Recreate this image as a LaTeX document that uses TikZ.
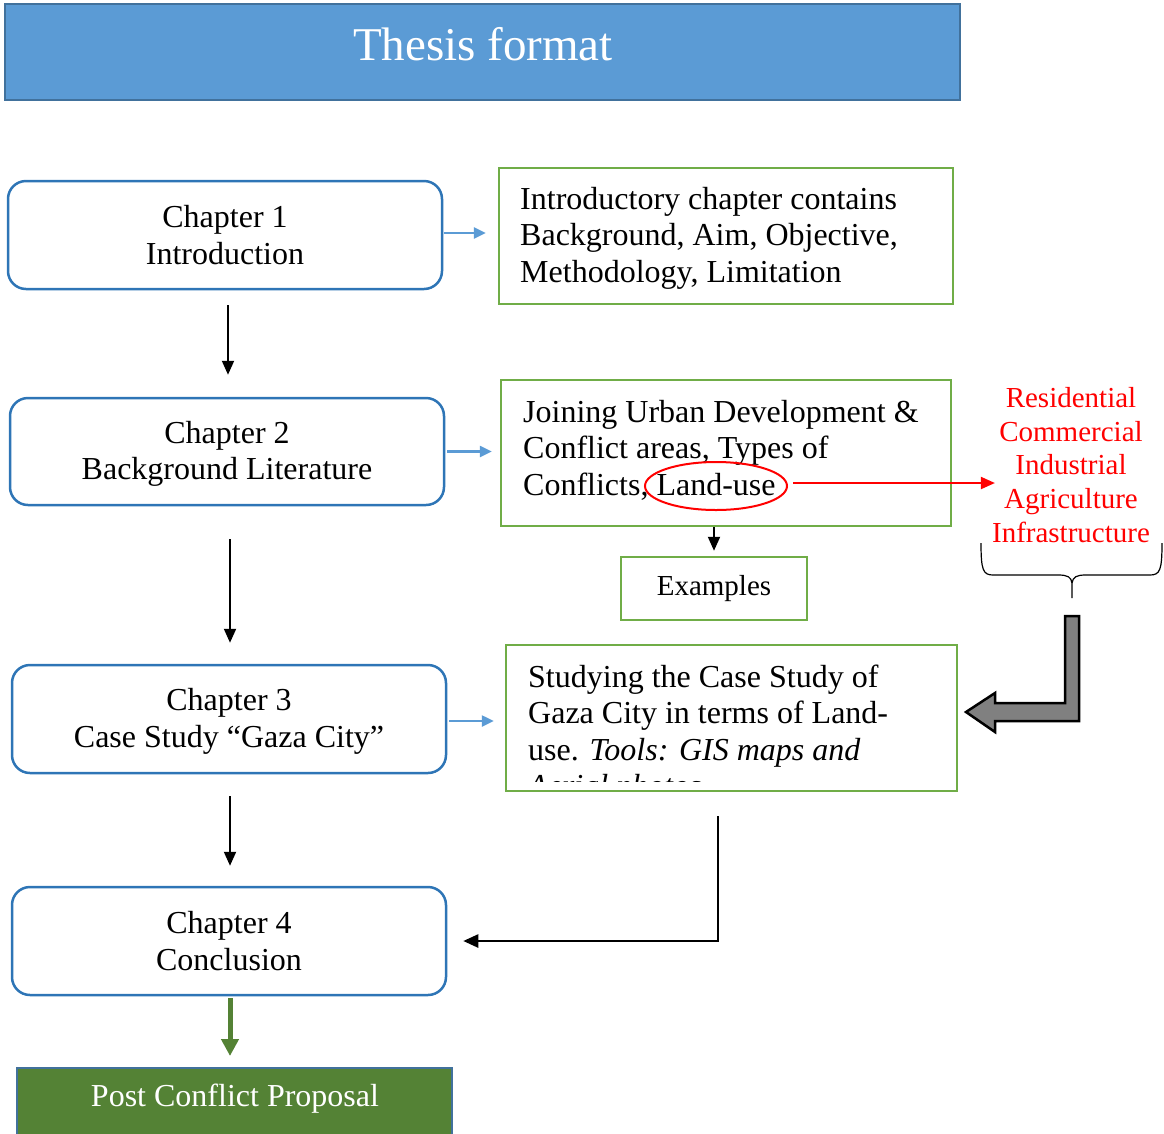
\documentclass[tikz,border=0pt]{standalone}
\usepackage{fontspec}
\setmainfont{Liberation Serif}
\usetikzlibrary{arrows.meta,calc,shapes.geometric}
\definecolor{chapblue}{HTML}{2E75B6}
\definecolor{arrblue}{HTML}{5B9BD5}
\definecolor{titlefill}{HTML}{5B9BD5}
\definecolor{titleborder}{HTML}{41719C}
\definecolor{gboxgreen}{HTML}{70AD47}
\definecolor{postgreen}{HTML}{548235}
\definecolor{redtxt}{HTML}{FF0000}
\begin{document}
\begin{tikzpicture}[x=1pt,y=-1pt,
  chap/.style={draw=chapblue, line width=2.5pt, rounded corners=18pt, minimum width=434pt, minimum height=108pt, align=center, font=\fontsize{32}{36.5}\selectfont, inner sep=0pt},
  chaptext/.style={align=center, font=\fontsize{32}{36.5}\selectfont, inner sep=0pt},
  gbox/.style={draw=gboxgreen, line width=2.5pt, inner sep=0pt},
  gtext/.style={align=left, anchor=west, font=\fontsize{32}{36.5}\selectfont, inner sep=0pt},
  barrow/.style={-{Triangle[length=12pt,width=11pt]}, line width=2.5pt, draw=arrblue},
  karrow/.style={-{Triangle[length=14pt,width=12pt]}, line width=2pt, draw=black},
]
\useasboundingbox (0,0) rectangle (1164,1133);

% title
\node[draw=titleborder, fill=titlefill, line width=2.5pt, minimum width=955pt, minimum height=96pt, inner sep=0pt] (title) at (482.5,52) {};
\node[text=white, font=\fontsize{47}{52}\selectfont, inner sep=0pt] (titletext) at (483,44) {Thesis format};

% chapters
\node[chap] (c1) at (225,235) {Chapter 1\\Introduction};
\node[chap, minimum height=107pt] (c2) at (227,451.5) {};
\node[chaptext] (c2t) at (227,454) {Chapter 2\\Background Literature};
\node[chap] (c3) at (229,719) {};
\node[chaptext] (c3t) at (229,721.5) {Chapter 3\\Case Study “Gaza City”};
\node[chap] (c4) at (229,941) {Chapter 4\\Conclusion};

% green boxes
\node[gbox, minimum width=454pt, minimum height=136pt] (g1) at (726,236) {};
\node[gtext] (g1t) at (520,238) {Introductory chapter contains\\Background, Aim, Objective,\\Methodology, Limitation};

\node[gbox, minimum width=450pt, minimum height=146pt] (g2) at (726,453) {};
\node[gtext] (g2t) at (523,450) {Joining Urban Development \&\\Conflict areas, Types of\\Conflicts, Land-use};

\node[gbox, minimum width=186pt, minimum height=63pt, font=\fontsize{29}{33}\selectfont] (ex) at (714,588.5) {Examples};

\node[gbox, minimum width=451pt, minimum height=146pt] (g3) at (731.5,718) {};
\begin{scope}
  \clip (g3.north west) rectangle ($(g3.south east)+(0,-11)$);
  \node[gtext] (g3t) at (528,734) {Studying the Case Study of\\Gaza City in terms of Land-\\use. \textit{Tools: GIS maps and}\\\textit{Aerial photos}};
\end{scope}

% red land-use
\node[draw=redtxt, line width=2pt, ellipse, minimum width=142pt, minimum height=48pt, inner sep=0pt] (lu) at (716,486) {};
\node[text=redtxt, align=center, font=\fontsize{29}{33.7}\selectfont, inner sep=0pt] (lus) at (1071,465) {Residential\\Commercial\\Industrial\\Agriculture\\Infrastructure};
\draw[redtxt, line width=2pt, -{Triangle[length=14pt,width=12pt]}] ($(lu.east)+(5,-3)$) -- ($(lu.east -| lus.west)+(3,-3)$);

% brace
\draw[line width=1.2pt] (981,543) .. controls (981,570) and (983,575) .. (993,575) -- (1058,575) .. controls (1068,575) and (1071,577) .. (1072,583) -- (1072,598);
\draw[line width=1.2pt] (1162,543) .. controls (1162,570) and (1160,575) .. (1150,575) -- (1086,575) .. controls (1076,575) and (1073,577) .. (1072,583);

% grey bent arrow
\draw[fill=gray, line width=2.5pt, line join=miter] (1065,616) -- (1079,616) -- (1079,721) -- (995,721) -- (995,732) -- (966,712) -- (995,693) -- (995,703) -- (1065,703) -- cycle;

% blue arrows
\draw[barrow] ($(c1.east)+(1,-2)$) -- ($(c1.east -| g1.west)+(-12,-2)$);
\draw[barrow] ($(c2.east)+(2,0)$) -- ($(c2.east -| g2.west)+(-8,0)$);
\draw[barrow] ($(c3.east)+(2,2)$) -- ($(c3.east -| g3.west)+(-11,2)$);

% black arrows
\draw[karrow] ($(c1.south)+(3,15)$) -- ($(c2.north)+(1,-22)$);
\draw[karrow] ($(c2.south)+(3,33)$) -- ($(c3.north)+(1,-21)$);
\draw[karrow] ($(c3.south)+(1,22)$) -- ($(c4.north)+(1,-20)$);
\draw[karrow] (ex.north |- g2.south) -- ($(ex.north)+(0,-5)$);
\draw[-{Triangle[length=15pt,width=13pt]}, line width=2.5pt] ($(g3.south)+(-13.5,24)$) |- ($(c4.east)+(16,0)$);

% post
\node[draw=titleborder, fill=postgreen, line width=2pt, minimum width=435pt, minimum height=80pt, inner sep=0pt] (post) at (234.5,1108) {};
\node[text=white, font=\fontsize{32}{36}\selectfont, inner sep=0pt] (posttext) at (235,1099) {Post Conflict Proposal};
\draw[postgreen, line width=5pt, -{Triangle[length=17pt,width=17pt]}] ($(c4.south)+(1,2)$) -- ($(c4.south |- post.north)+(1,-11)$);
\end{tikzpicture}
\end{document}
